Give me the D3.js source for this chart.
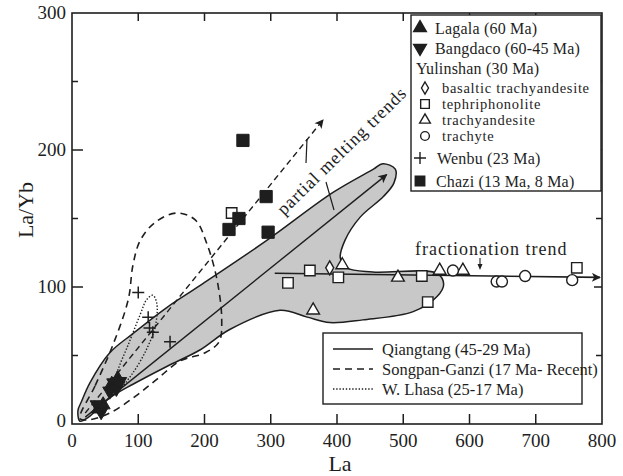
<!DOCTYPE html>
<html>
<head>
<meta charset="utf-8">
<script src="https://cdn.jsdelivr.net/npm/d3@7"></script>
<style>
  body { margin: 0; background: #fff; }
  svg { display: block; }
  text { font-family: "Liberation Serif", "Times New Roman", serif; fill: #1e1e1e; }
</style>
</head>
<body>
<svg id="chart" width="623" height="476"></svg>
<script>
// ---- tick values ----
const xTicks = [0, 100, 200, 300, 400, 500, 600, 700, 800];
const yTicks = [0, 100, 200, 300];
const yMinorTicks = [50, 150, 250];

// ---- samples: [La, La/Yb] ----
const lagala = [[40, 11], [47, 14], [60, 29], [69, 33]];
const bangdaco = [[38, 14], [44, 9], [57, 24], [63, 30], [67, 26], [72, 31]];
const yulinDiamond = [[389, 114]];
const yulinSquare = [[241, 154], [326, 103], [359, 112], [402, 107], [528, 108], [537, 89], [762, 114]];
const yulinTriangle = [[364, 83], [408, 116], [492, 107], [555, 112], [590, 112]];
const yulinCircle = [[575, 112], [641, 104], [649, 104], [684, 108], [755, 105]];
const wenbu = [[100, 96], [115, 78], [117, 70], [122, 67], [148, 60]];
const chazi = [[258, 207], [293, 166], [252, 150], [237, 142], [296, 140]];

// ---- reference fields: [La, La/Yb] outlines ----
const qiangtangField = [
  [12, 2], [9, 10], [14, 16], [27, 30], [57, 52], [92, 66], [143, 85], [193, 101],
  [294, 134], [394, 169], [455, 186], [469, 190], [488, 186], [486, 176], [470, 166],
  [435, 151], [412, 134], [405, 121], [415, 114], [454, 111], [551, 110], [561, 102],
  [551, 93], [515, 82], [439, 76], [389, 74], [355, 78], [314, 83], [238, 69],
  [193, 54], [143, 42], [92, 29], [57, 19], [25, 5]
];
const songpanField = [
  [12, 4], [35, 28], [62, 58], [85, 91], [92, 116], [103, 134], [125, 147], [158, 154],
  [186, 149], [204, 131], [219, 105], [226, 76], [222, 60], [201, 52], [163, 46],
  [129, 33], [95, 20], [57, 8], [24, 3]
];
const lhasaField = [
  [62, 25], [69, 39], [85, 58], [103, 80], [113, 91], [122, 94], [128, 88], [126, 72],
  [112, 54], [90, 36], [70, 25]
];

// ---- trend arrows: [start, end] ----
const partialDashed = [[20, 8], [379, 222]];
const partialSolid = [[20, 5], [475, 182]];
const fractionation = [[306, 110], [797, 107]];

const svg = d3.select("#chart");
const x = d3.scaleLinear().domain([0, 800]).range([72, 602]);
const y = d3.scaleLinear().domain([0, 300]).range([424, 13]);
const ink = "#1e1e1e";

// arrowhead
svg.append("defs").append("marker")
  .attr("id", "head").attr("viewBox", "0 0 10 10")
  .attr("refX", 9).attr("refY", 5)
  .attr("markerWidth", 11).attr("markerHeight", 9)
  .attr("markerUnits", "userSpaceOnUse")
  .attr("orient", "auto")
  .append("path").attr("d", "M0,0 L10,5 L0,10 L2.5,5 Z").attr("fill", ink);

const line = d3.line().x(d => x(d[0])).y(d => y(d[1]));
const closed = d3.line().x(d => x(d[0])).y(d => y(d[1])).curve(d3.curveCatmullRomClosed.alpha(0.5));

// Qiangtang field (grey)
svg.append("path").attr("d", closed(qiangtangField))
  .attr("fill", "#c8c8c8").attr("stroke", ink).attr("stroke-width", 1.5);
// Songpan-Ganzi (dashed)
svg.append("path").attr("d", closed(songpanField))
  .attr("fill", "none").attr("stroke", ink).attr("stroke-width", 1.6)
  .attr("stroke-dasharray", "7,5");
// W. Lhasa (dotted)
svg.append("path").attr("d", closed(lhasaField))
  .attr("fill", "none").attr("stroke", ink).attr("stroke-width", 1.4)
  .attr("stroke-dasharray", "1.4,1.8");

// trend lines
svg.append("path").attr("d", line(partialDashed)).attr("fill", "none")
  .attr("stroke", ink).attr("stroke-width", 1.4).attr("stroke-dasharray", "6,4")
  .attr("marker-end", "url(#head)");
svg.append("path").attr("d", line(partialSolid)).attr("fill", "none")
  .attr("stroke", ink).attr("stroke-width", 1.4).attr("marker-end", "url(#head)");
svg.append("path").attr("d", line(fractionation)).attr("fill", "none")
  .attr("stroke", ink).attr("stroke-width", 1.6).attr("marker-end", "url(#head)");

// leaders from the "partial melting trends" label
svg.append("line").attr("x1", 306).attr("y1", 163).attr("x2", 307).attr("y2", 139)
  .attr("stroke", ink).attr("stroke-width", 1.2);
svg.append("line").attr("x1", 326).attr("y1", 182).attr("x2", 334).attr("y2", 210)
  .attr("stroke", ink).attr("stroke-width", 1.2);
// small pointer above the fractionation trend
svg.append("line").attr("x1", 480).attr("y1", 258).attr("x2", 480).attr("y2", 267)
  .attr("stroke", ink).attr("stroke-width", 1.1);
svg.append("path").attr("d", "M477.5,264 L480,270 L482.5,264 Z").attr("fill", ink);

// annotations
svg.append("text").attr("transform", "translate(284,216) rotate(-44.5)")
  .style("font-size", "18px").style("letter-spacing", "0.9px")
  .text("partial melting trends");
svg.append("text").attr("x", 415).attr("y", 255)
  .style("font-size", "18px").style("letter-spacing", "1px")
  .text("fractionation trend");

// ---- markers ----
const sym = (type, size) => d3.symbol().type(type).size(size)();
const diamondPath = "M0,-7 L4,0 L0,7 L-4,0 Z";
const plusPath = "M-6,0 H6 M0,-6 V6";

function drawPoints(data, path, opts) {
  svg.append("g").selectAll("path").data(data).join("path")
    .attr("transform", d => `translate(${x(d[0])},${y(d[1])})${opts.rotate ? " rotate(180)" : ""}`)
    .attr("d", path)
    .attr("fill", opts.fill || "none")
    .attr("stroke", ink)
    .attr("stroke-width", opts.sw || 1.4);
}
drawPoints(yulinSquare, sym(d3.symbolSquare, 110), { fill: "#fff" });
drawPoints(yulinTriangle, sym(d3.symbolTriangle, 70), { fill: "#fff" });
drawPoints(yulinCircle, sym(d3.symbolCircle, 95), { fill: "#fff" });
drawPoints(yulinDiamond, diamondPath, { fill: "#fff" });
drawPoints(wenbu, plusPath, { sw: 1.5 });
drawPoints(lagala, sym(d3.symbolTriangle, 85), { fill: ink, sw: 1 });
drawPoints(bangdaco, sym(d3.symbolTriangle, 85), { fill: ink, sw: 1, rotate: true });
drawPoints(chazi, sym(d3.symbolSquare, 150), { fill: ink, sw: 1 });

// ---- frame and ticks ----
svg.append("rect").attr("x", x(0)).attr("y", y(300))
  .attr("width", x(800) - x(0)).attr("height", y(0) - y(300))
  .attr("fill", "none").attr("stroke", ink).attr("stroke-width", 1.6);

const ticks = svg.append("g").attr("stroke", ink).attr("stroke-width", 1.5);
xTicks.slice(1, -1).forEach(v => {
  ticks.append("line").attr("x1", x(v)).attr("x2", x(v)).attr("y1", y(0)).attr("y2", y(0) - 10);
  ticks.append("line").attr("x1", x(v)).attr("x2", x(v)).attr("y1", y(300)).attr("y2", y(300) + 8);
});
yTicks.slice(1, -1).forEach(v => {
  ticks.append("line").attr("x1", x(0)).attr("x2", x(0) + 11).attr("y1", y(v)).attr("y2", y(v));
  ticks.append("line").attr("x1", x(800)).attr("x2", x(800) - 8).attr("y1", y(v)).attr("y2", y(v));
});
yMinorTicks.forEach(v => {
  ticks.append("line").attr("x1", x(0)).attr("x2", x(0) + 6).attr("y1", y(v)).attr("y2", y(v));
  ticks.append("line").attr("x1", x(800)).attr("x2", x(800) - 6).attr("y1", y(v)).attr("y2", y(v));
});

svg.append("g").selectAll("text").data(xTicks).join("text")
  .attr("x", d => x(d)).attr("y", 447).attr("text-anchor", "middle")
  .style("font-size", "19px").text(d => d);
svg.append("g").selectAll("text").data(yTicks).join("text")
  .attr("x", 66).attr("y", d => y(d) + (d === 0 ? 3 : 6)).attr("text-anchor", "end")
  .style("font-size", "19px").text(d => d);

svg.append("text").attr("x", 340).attr("y", 471).attr("text-anchor", "middle")
  .style("font-size", "22px").text("La");
svg.append("text").attr("transform", "translate(33,210) rotate(-90)").attr("text-anchor", "middle")
  .style("font-size", "22px").text("La/Yb");

// ---- sample legend ----
const lg = svg.append("g");
lg.append("rect").attr("x", 411).attr("y", 15).attr("width", 190).attr("height", 176)
  .attr("fill", "#fff").attr("stroke", ink).attr("stroke-width", 1.4);
const legendRows = [
  { label: "Lagala (60 Ma)", cy: 28, sx: 420, tx: 435, path: sym(d3.symbolTriangle, 70), fill: ink },
  { label: "Bangdaco (60-45 Ma)", cy: 48, sx: 420, tx: 435, path: sym(d3.symbolTriangle, 70), fill: ink, rotate: true },
  { label: "Yulinshan (30 Ma)", cy: 68, tx: 416 },
  { label: "basaltic trachyandesite", cy: 88, sx: 425, tx: 442, path: "M0,-6 L3.5,0 L0,6 L-3.5,0 Z", fill: "#fff", small: true },
  { label: "tephriphonolite", cy: 104, sx: 425, tx: 442, path: sym(d3.symbolSquare, 75), fill: "#fff", small: true },
  { label: "trachyandesite", cy: 120, sx: 425, tx: 442, path: sym(d3.symbolTriangle, 50), fill: "#fff", small: true },
  { label: "trachyte", cy: 136, sx: 425, tx: 442, path: sym(d3.symbolCircle, 60), fill: "#fff", small: true },
  { label: "Wenbu (23 Ma)", cy: 158, sx: 420, tx: 437, path: "M-6,0 H6 M0,-6 V6", fill: "none" },
  { label: "Chazi (13 Ma, 8 Ma)", cy: 181, sx: 420, tx: 436, path: sym(d3.symbolSquare, 90), fill: ink }
];
legendRows.forEach(r => {
  if (r.path) {
    lg.append("path").attr("d", r.path)
      .attr("transform", `translate(${r.sx},${r.cy})${r.rotate ? " rotate(180)" : ""}`)
      .attr("fill", r.fill).attr("stroke", ink).attr("stroke-width", 1.4);
  }
  lg.append("text").attr("x", r.tx).attr("y", r.cy + (r.small ? 4.5 : 5.5))
    .style("font-size", r.small ? "14.5px" : "16px")
    .style("letter-spacing", r.small ? "0.7px" : "0.2px")
    .text(r.label);
});

// ---- field legend ----
const fg = svg.append("g");
fg.append("rect").attr("x", 323).attr("y", 333).attr("width", 259).attr("height", 71)
  .attr("fill", "#fff").attr("stroke", ink).attr("stroke-width", 1.4);
const fieldRows = [
  { label: "Qiangtang (45-29 Ma)", cy: 349, dash: null, sw: 1.5 },
  { label: "Songpan-Ganzi (17 Ma- Recent)", cy: 369, dash: "7,5", sw: 1.6 },
  { label: "W. Lhasa (25-17 Ma)", cy: 389, dash: "1.4,1.8", sw: 1.4 }
];
fieldRows.forEach(r => {
  fg.append("line").attr("x1", 333).attr("x2", 373).attr("y1", r.cy).attr("y2", r.cy)
    .attr("stroke", ink).attr("stroke-width", r.sw).attr("stroke-dasharray", r.dash);
  fg.append("text").attr("x", 382).attr("y", r.cy + 5.5)
    .style("font-size", "16.5px").text(r.label);
});
</script>
</body>
</html>
